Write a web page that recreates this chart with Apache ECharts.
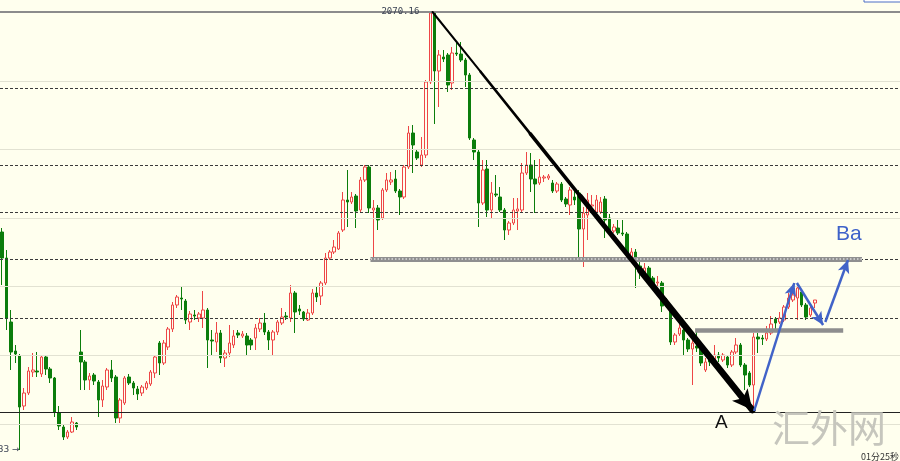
<!DOCTYPE html>
<html>
<head>
<meta charset="utf-8">
<script src="https://cdn.jsdelivr.net/npm/echarts@6/dist/echarts.min.js"></script>
<style>
  html, body { margin: 0; padding: 0; background: #ffffee; }
  #chart { width: 900px; height: 461px; }
</style>
</head>
<body>
<div id="chart"></div>
<script>
// candle values
const open = [
  1850, 1824, 1760, 1731, 1726, 1676, 1689, 1710, 1711, 1708,
  1725, 1713, 1704, 1669, 1655, 1645, 1650, 1659, 1730, 1720,
  1702, 1707, 1700, 1682, 1695, 1712, 1705, 1664, 1679, 1705,
  1699, 1693, 1689, 1694, 1698, 1709, 1739, 1719, 1735, 1753,
  1777, 1784, 1781, 1760, 1767, 1764, 1764, 1772, 1742, 1740,
  1749, 1724, 1729, 1737, 1749, 1746, 1746, 1742, 1744, 1753,
  1759, 1750, 1742, 1750, 1759, 1766, 1764, 1789, 1773, 1770,
  1762, 1769, 1789, 1786, 1799, 1824, 1830, 1833, 1852, 1882,
  1880, 1886, 1872, 1902, 1915, 1872, 1874, 1864, 1892, 1900,
  1903, 1891, 1885, 1915, 1949, 1930, 1917, 1927, 2000, 2069,
  2011, 2025, 2027, 1999, 2029, 2028, 2022, 2007, 1942, 1930,
  1879, 1913, 1872, 1888, 1885, 1872, 1852, 1859, 1871, 1872,
  1909, 1917, 1903, 1899, 1904, 1904, 1899, 1891, 1898, 1883,
  1877, 1885, 1889, 1853, 1867, 1876, 1870, 1870, 1883, 1864,
  1851, 1854, 1849, 1848, 1825, 1830, 1816, 1808, 1814, 1804,
  1799, 1799, 1782, 1776, 1740, 1748, 1752, 1742, 1733, 1736,
  1733, 1712, 1722, 1722, 1727, 1722, 1725, 1717, 1730, 1737,
  1717, 1709, 1697, 1745, 1744, 1743, 1749, 1763, 1760, 1762,
  1775, 1782, 1784, 1790, 1777, 1767, 1779
];
const close = [
  1824, 1764, 1730, 1728, 1675, 1689, 1711, 1712, 1710, 1725,
  1713, 1704, 1670, 1656, 1645, 1650, 1660, 1655, 1720, 1702,
  1706, 1701, 1682, 1696, 1712, 1704, 1664, 1682, 1704, 1699,
  1694, 1688, 1695, 1699, 1710, 1725, 1719, 1739, 1753, 1777,
  1785, 1783, 1762, 1768, 1766, 1768, 1772, 1742, 1741, 1749,
  1724, 1729, 1739, 1746, 1747, 1748, 1737, 1737, 1754, 1759,
  1750, 1742, 1750, 1760, 1765, 1765, 1789, 1770, 1771, 1763,
  1769, 1789, 1785, 1799, 1824, 1830, 1835, 1849, 1882, 1880,
  1885, 1871, 1902, 1915, 1874, 1874, 1862, 1892, 1902, 1902,
  1891, 1885, 1915, 1949, 1937, 1924, 1927, 2000, 2069, 2011,
  2027, 2023, 1997, 2029, 2028, 2022, 2007, 1944, 1930, 1879,
  1912, 1872, 1889, 1887, 1872, 1852, 1859, 1872, 1873, 1909,
  1917, 1903, 1898, 1905, 1905, 1906, 1891, 1898, 1882, 1878,
  1892, 1882, 1853, 1869, 1882, 1877, 1882, 1880, 1862, 1850,
  1855, 1849, 1848, 1829, 1830, 1815, 1812, 1814, 1802, 1796,
  1800, 1776, 1776, 1740, 1747, 1754, 1742, 1733, 1739, 1734,
  1719, 1720, 1720, 1727, 1724, 1727, 1717, 1730, 1737, 1717,
  1707, 1697, 1745, 1743, 1743, 1749, 1758, 1759, 1764, 1775,
  1784, 1787, 1794, 1777, 1765, 1774, 1782
];
const low = [
  1797, 1752, 1712, 1719, 1632, 1672, 1687, 1705, 1705, 1705,
  1707, 1699, 1665, 1652, 1642, 1643, 1649, 1652, 1692, 1692,
  1692, 1697, 1665, 1675, 1692, 1700, 1659, 1659, 1677, 1697,
  1687, 1682, 1686, 1692, 1696, 1704, 1707, 1717, 1732, 1750,
  1774, 1772, 1758, 1752, 1762, 1760, 1754, 1714, 1727, 1730,
  1719, 1715, 1725, 1734, 1744, 1744, 1727, 1732, 1732, 1750,
  1747, 1732, 1727, 1747, 1757, 1762, 1760, 1749, 1767, 1761,
  1761, 1767, 1780, 1777, 1797, 1822, 1828, 1832, 1850, 1855,
  1878, 1854, 1870, 1900, 1869, 1823, 1852, 1862, 1890, 1897,
  1889, 1867, 1883, 1913, 1909, 1922, 1915, 1924, 1998, 1958,
  1975, 2020, 1990, 1992, 2026, 2020, 1995, 1942, 1922, 1855,
  1877, 1865, 1864, 1885, 1870, 1842, 1847, 1857, 1852, 1870,
  1907, 1890, 1869, 1897, 1900, 1902, 1889, 1889, 1880, 1875,
  1867, 1877, 1825, 1815, 1842, 1874, 1868, 1868, 1844, 1848,
  1849, 1847, 1846, 1822, 1824, 1794, 1803, 1806, 1799, 1794,
  1796, 1770, 1774, 1737, 1737, 1746, 1727, 1730, 1697, 1730,
  1716, 1710, 1716, 1720, 1720, 1720, 1714, 1715, 1728, 1715,
  1692, 1695, 1670, 1729, 1737, 1741, 1747, 1752, 1758, 1760,
  1773, 1780, 1762, 1775, 1762, 1765, 1774
];
const high = [
  1854, 1832, 1772, 1737, 1728, 1694, 1715, 1729, 1730, 1727,
  1727, 1715, 1705, 1676, 1657, 1652, 1665, 1660, 1752, 1722,
  1709, 1709, 1702, 1702, 1714, 1722, 1707, 1684, 1706, 1708,
  1701, 1696, 1697, 1701, 1712, 1727, 1741, 1742, 1755, 1780,
  1787, 1795, 1783, 1771, 1772, 1770, 1791, 1774, 1752, 1760,
  1752, 1732, 1757, 1752, 1752, 1751, 1749, 1744, 1758, 1764,
  1769, 1752, 1752, 1762, 1774, 1770, 1797, 1791, 1777, 1771,
  1773, 1793, 1795, 1801, 1829, 1832, 1842, 1851, 1890, 1912,
  1890, 1888, 1905, 1917, 1917, 1882, 1877, 1894, 1909, 1910,
  1912, 1893, 1917, 1956, 1957, 1932, 1945, 2002, 2070.16, 2070,
  2032, 2032, 2029, 2035, 2039, 2040, 2024, 2009, 1944, 1932,
  1922, 1922, 1900, 1907, 1895, 1874, 1861, 1884, 1884, 1919,
  1930, 1929, 1922, 1923, 1907, 1908, 1902, 1900, 1900, 1885,
  1895, 1892, 1892, 1875, 1889, 1887, 1887, 1885, 1886, 1868,
  1858, 1862, 1862, 1850, 1834, 1833, 1820, 1819, 1816, 1806,
  1806, 1801, 1784, 1778, 1749, 1760, 1756, 1744, 1750, 1750,
  1736, 1724, 1730, 1737, 1730, 1729, 1727, 1732, 1744, 1739,
  1719, 1711, 1749, 1749, 1747, 1756, 1766, 1765, 1770, 1777,
  1789, 1795, 1797, 1792, 1779, 1777, 1782
];

const slots = 206; // bar slots across the window, the right part is empty
const bars = Array.from({ length: slots }, (_, i) => 'K' + (i + 1));

const gridLevels = [2001, 1933, 1864, 1796, 1727, 1658];
const dashLevels = [1994, 1917, 1870, 1823, 1764];
const peakLevel = 2070.16;
const baseLevel = 1670;
const lowLabel = [4, 1632];

// drawn annotations, as [bar position, price]
const supportBand = [[84.3, 1823], [196.8, 1823]];
const neckBand = [[158.6, 1752], [192.5, 1752]];
const trendPath = [
  [98.5, 2070], [109.5, 2010.3], [120.9, 1948.1],
  [132.3, 1885.9], [146.1, 1811.3], [171.7, 1672]
];
const trendWidths = [2, 2.6, 3.6, 5, 6.5];
const waveLegs = [
  [[172.1, 1671], [181.3, 1799]],
  [[181.9, 1799], [187.9, 1757]],
  [[188.4, 1760], [193.6, 1822]]
];
const labelA = [164.6, 1659];
const labelBa = [193.8, 1848];

const candles = open.map((o, i) => [o, close[i], low[i], high[i]]);

const levelLines = [
  ...gridLevels.map(v => ({ yAxis: v, lineStyle: { color: '#e2e2d2', width: 1, type: 'solid' } })),
  ...dashLevels.map(v => ({ yAxis: v, lineStyle: { color: '#3a3a3a', width: 1, type: [3, 2] } })),
  { yAxis: peakLevel, lineStyle: { color: '#8c8c8c', width: 2, type: 'solid' } },
  { yAxis: baseLevel, lineStyle: { color: '#222222', width: 1, type: 'solid' } }
];

const trendSegments = trendPath.slice(1).map((p, i) => {
  const last = i === trendPath.length - 2;
  return [
    { coord: trendPath[i], symbol: 'none' },
    {
      coord: p,
      symbol: last ? 'arrow' : 'none',
      symbolSize: last ? [15, 20] : 0,
      lineStyle: { color: '#000000', width: trendWidths[i], type: 'solid', cap: 'round' }
    }
  ];
});

const waveSegments = waveLegs.map(leg => [
  { coord: leg[0], symbol: 'none' },
  {
    coord: leg[1],
    symbol: 'arrow',
    symbolSize: [9, 13],
    lineStyle: { color: '#4163c8', width: 2.5, type: 'solid' }
  }
]);

const bandSegments = [
  [{ coord: supportBand[0] }, { coord: supportBand[1], lineStyle: { color: '#8f8f8f', width: 5, type: 'solid' } }],
  [{ coord: supportBand[0] }, { coord: supportBand[1], lineStyle: { color: '#dcdcdc', width: 1.5, type: [1.5, 2] } }],
  [{ coord: neckBand[0] }, { coord: neckBand[1], lineStyle: { color: '#8e8e8e', width: 4.5, type: 'solid' } }]
];

const chart = echarts.init(document.getElementById('chart'));
chart.setOption({
  animation: false,
  backgroundColor: '#ffffee',
  grid: { left: -1, right: 0, top: 0, bottom: 0 },
  xAxis: [
    { type: 'category', data: bars, boundaryGap: true, show: false },
    { type: 'value', min: -0.5, max: slots - 0.5, show: false }
  ],
  yAxis: {
    type: 'value',
    min: 1621,
    max: 2082,
    show: false,
    splitLine: { show: false }
  },
  series: [
    {
      type: 'line',
      data: [],
      z: 1,
      markLine: {
        silent: true,
        symbol: ['none', 'none'],
        label: { show: false },
        data: levelLines
      }
    },
    {
      type: 'candlestick',
      data: candles,
      barWidth: 3,
      z: 2,
      itemStyle: {
        color: '#ffffee',
        color0: '#0b7d0b',
        borderColor: '#ee4646',
        borderColor0: '#0b7d0b',
        borderWidth: 1
      },
      markPoint: {
        silent: true,
        symbol: 'circle',
        symbolSize: 0,
        data: [
          {
            coord: [98, peakLevel],
            label: {
              show: true, position: 'left', distance: 11, formatter: '2070.16',
              color: '#3c4454', fontSize: 9, fontFamily: 'DejaVu Sans Mono'
            }
          },
          {
            coord: lowLabel,
            label: {
              show: true, position: 'left', distance: 0, formatter: '1632.33 →',
              color: '#3c4454', fontSize: 9, fontFamily: 'DejaVu Sans'
            }
          }
        ]
      }
    },
    {
      type: 'line',
      xAxisIndex: 1,
      data: [],
      z: 3,
      markLine: {
        silent: true,
        symbol: ['none', 'none'],
        label: { show: false },
        data: [...bandSegments, ...trendSegments, ...waveSegments]
      },
      markPoint: {
        silent: true,
        symbol: 'circle',
        symbolSize: 0,
        data: [
          {
            coord: labelA,
            label: { show: true, position: 'inside', formatter: 'A', color: '#111111', fontSize: 19, fontFamily: 'Liberation Sans' }
          },
          {
            coord: labelBa,
            label: { show: true, position: 'inside', formatter: 'Ba', color: '#3e62c9', fontSize: 21, fontFamily: 'Liberation Sans' }
          }
        ]
      }
    }
  ],
  graphic: [
    {
      type: 'text', left: 772, top: 409, z: 10, silent: true,
      style: { text: '汇外网', fontSize: 38, fontFamily: 'Noto Sans CJK SC', fill: '#c6c6bd' }
    },
    {
      type: 'text', right: 1, bottom: 0, z: 10, silent: true,
      style: { text: '01分25秒', fontSize: 9, fontFamily: 'Noto Sans CJK SC', fill: '#333333' }
    },
    {
      type: 'rect', z: 10, silent: true,
      shape: { x: 864, y: -10, width: 40, height: 12 },
      style: { fill: '#ffffff', stroke: '#4d6fc4', lineWidth: 1 }
    }
  ]
});
</script>
</body>
</html>
